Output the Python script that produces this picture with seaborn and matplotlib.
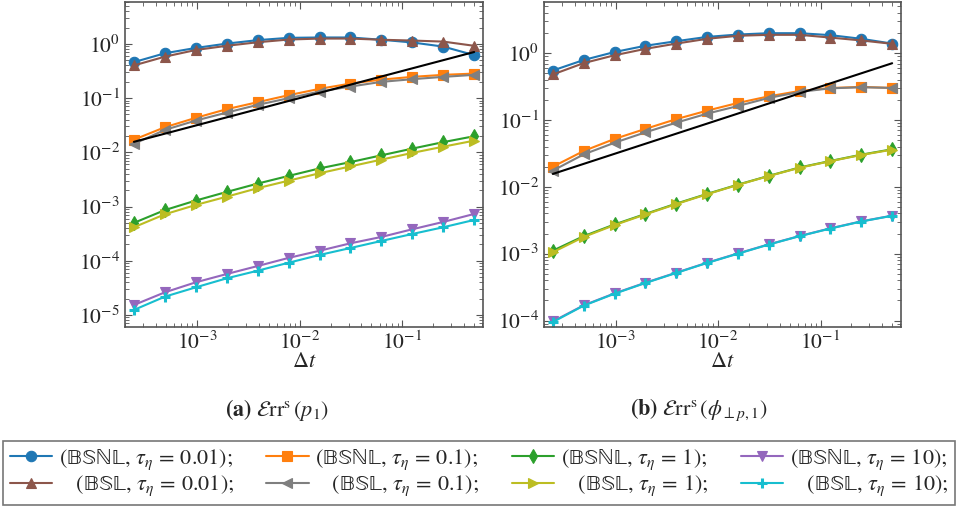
import numpy as np
import matplotlib
matplotlib.use("Agg")
import matplotlib.pyplot as plt
import seaborn as sns

# time steps (2^-12 ... 2^-1)
dt = [2.441e-4, 4.883e-4, 9.766e-4, 1.953e-3, 3.906e-3, 7.813e-3,
      1.563e-2, 3.125e-2, 6.25e-2, 0.125, 0.25, 0.5]

# reference slope line (order 1/2)
ref_dt = [2.441e-4, 0.5]
ref_err = [0.0156, 0.707]

# (a) Err^s(p_1)
p_bsnl_001 = [0.46, 0.67, 0.84, 1.01, 1.17, 1.29, 1.31, 1.31, 1.19, 1.06, 0.89, 0.62]
p_bsl_001 = [0.40, 0.58, 0.77, 0.92, 1.07, 1.20, 1.25, 1.25, 1.19, 1.15, 1.10, 0.92]
p_bsnl_01 = [0.0171, 0.0290, 0.0432, 0.0624, 0.0840, 0.113, 0.148, 0.185, 0.219, 0.246, 0.268, 0.283]
p_bsl_01 = [0.0143, 0.0259, 0.0385, 0.054, 0.075, 0.0995, 0.132, 0.163, 0.199, 0.223, 0.246, 0.268]
p_bsnl_1 = [5.0e-4, 8.6e-4, 1.29e-3, 1.86e-3, 2.65e-3, 3.67e-3, 5.05e-3, 6.6e-3, 8.8e-3, 1.17e-2, 1.54e-2, 1.98e-2]
p_bsl_1 = [4.15e-4, 7.2e-4, 1.07e-3, 1.52e-3, 2.18e-3, 3.0e-3, 4.11e-3, 5.5e-3, 7.33e-3, 9.75e-3, 1.27e-2, 1.64e-2]
p_bsnl_10 = [1.53e-5, 2.62e-5, 4.01e-5, 5.70e-5, 8.0e-5, 1.13e-4, 1.53e-4, 2.10e-4, 2.75e-4, 3.81e-4, 5.2e-4, 7.3e-4]
p_bsl_10 = [1.24e-5, 2.18e-5, 3.24e-5, 4.75e-5, 6.56e-5, 9.2e-5, 1.28e-4, 1.72e-4, 2.32e-4, 3.12e-4, 4.15e-4, 5.66e-4]

# (b) Err^s(phi_{perp p,1})
phi_bsnl_001 = [0.55, 0.79, 1.04, 1.29, 1.51, 1.75, 1.90, 1.99, 1.99, 1.86, 1.64, 1.39]
phi_bsl_001 = [0.48, 0.71, 0.93, 1.16, 1.39, 1.64, 1.82, 1.88, 1.88, 1.71, 1.55, 1.38]
phi_bsnl_01 = [0.0200, 0.0344, 0.0521, 0.0736, 0.103, 0.138, 0.180, 0.226, 0.272, 0.301, 0.313, 0.302]
phi_bsl_01 = [0.0175, 0.0306, 0.0457, 0.0654, 0.0912, 0.1245, 0.162, 0.214, 0.263, 0.298, 0.309, 0.302]
phi_bsnl_1 = [1.11e-3, 1.83e-3, 2.74e-3, 3.93e-3, 5.61e-3, 7.84e-3, 1.08e-2, 1.46e-2, 1.95e-2, 2.44e-2, 3.03e-2, 3.65e-2]
phi_bsl_1 = [1.05e-3, 1.78e-3, 2.68e-3, 3.87e-3, 5.52e-3, 7.75e-3, 1.07e-2, 1.45e-2, 1.93e-2, 2.42e-2, 3.0e-2, 3.6e-2]
phi_bsnl_10 = [9.7e-5, 1.69e-4, 2.55e-4, 3.68e-4, 5.2e-4, 7.33e-4, 1.01e-3, 1.38e-3, 1.84e-3, 2.40e-3, 3.05e-3, 3.71e-3]
phi_bsl_10 = [9.5e-5, 1.67e-4, 2.52e-4, 3.64e-4, 5.15e-4, 7.27e-4, 1.0e-3, 1.37e-3, 1.83e-3, 2.38e-3, 3.03e-3, 3.69e-3]

labels = [
    "(𝔹𝕊ℕ𝕃, $\\tau_\\eta\\, =\\, 0.01$);",
    "   (𝔹𝕊𝕃, $\\tau_\\eta\\, =\\, 0.01$);",
    "(𝔹𝕊ℕ𝕃, $\\tau_\\eta\\, =\\, 0.1$);",
    "   (𝔹𝕊𝕃, $\\tau_\\eta\\, =\\, 0.1$);",
    "(𝔹𝕊ℕ𝕃, $\\tau_\\eta\\, =\\, 1$);",
    "   (𝔹𝕊𝕃, $\\tau_\\eta\\, =\\, 1$);",
    "(𝔹𝕊ℕ𝕃, $\\tau_\\eta\\, =\\, 10$);",
    "   (𝔹𝕊𝕃, $\\tau_\\eta\\, =\\, 10$);",
]
pal = sns.color_palette("tab10")
colors = [pal[0], pal[5], pal[1], pal[7], pal[2], pal[8], pal[4], pal[9]]
markers = ["o", "^", "s", "<", "d", ">", "v", "+"]

sns.set_style("ticks")
plt.rcParams["font.family"] = ["STIXGeneral", "DejaVu Serif"]
plt.rcParams["mathtext.fontset"] = "stix"

fig = plt.figure(figsize=(9.58, 5.12), dpi=100)
ax1 = fig.add_axes([0.1305, 0.362, 0.3737, 0.6348])
ax2 = fig.add_axes([0.5678, 0.362, 0.3727, 0.6348])

panels = [
    (ax1, [p_bsnl_001, p_bsl_001, p_bsnl_01, p_bsl_01, p_bsnl_1, p_bsl_1, p_bsnl_10, p_bsl_10], (6.1e-6, 6.0)),
    (ax2, [phi_bsnl_001, phi_bsl_001, phi_bsnl_01, phi_bsl_01, phi_bsnl_1, phi_bsl_1, phi_bsnl_10, phi_bsl_10], (8.1e-5, 5.9)),
]

for ax, series, ylim in panels:
    for vals, lab, c, m in zip(series, labels, colors, markers):
        sns.lineplot(x=dt, y=vals, ax=ax, color=c, marker=m, markersize=7.5,
                     markeredgewidth=2.2 if m == "+" else 0.8, markeredgecolor=c,
                     linewidth=1.5, label=lab)
    sns.lineplot(x=ref_dt, y=ref_err, ax=ax, color="black", linewidth=1.5)
    if ax.get_legend() is not None:
        ax.get_legend().remove()
    ax.set_xscale("log")
    ax.set_yscale("log")
    ax.set_xlim(2.0e-4, 0.61)
    ax.set_ylim(*ylim)
    ax.set_xticks([1e-3, 1e-2, 1e-1])
    ax.set_xlabel(r"$\Delta t$", fontsize=16, labelpad=-1)
    ax.set_ylabel("")
    ax.tick_params(which="both", direction="in", top=True, right=True,
                   labelsize=15.5, color="#555555")
    ax.tick_params(which="major", length=5)
    ax.tick_params(which="minor", length=3)
    for sp in ax.spines.values():
        sp.set_color("#555555")
        sp.set_linewidth(1.2)

fig.text(0.289, 0.199, r"$\mathbf{(a)}\ \mathcal{E}\mathrm{rr}^{\mathrm{s}}\,(p_1)$",
         ha="center", va="center", fontsize=16)
fig.text(0.729, 0.199, r"$\mathbf{(b)}\ \mathcal{E}\mathrm{rr}^{\mathrm{s}}\,(\phi_{\perp p,1})$",
         ha="center", va="center", fontsize=16)

handles, labs = ax1.get_legend_handles_labels()
leg = fig.legend(handles, labs, ncol=4, loc="center", mode="expand",
                 bbox_to_anchor=(3 / 958, 1 - 507 / 512, 952 / 958, 68 / 512),
                 fontsize=16, frameon=True, fancybox=False, edgecolor="#555555",
                 handlelength=1.9, handletextpad=0.3, columnspacing=0.8,
                 labelspacing=0.08, borderpad=0.3, borderaxespad=0, numpoints=1)
leg.get_frame().set_linewidth(1.2)

fig.savefig("out.png", dpi=100)
